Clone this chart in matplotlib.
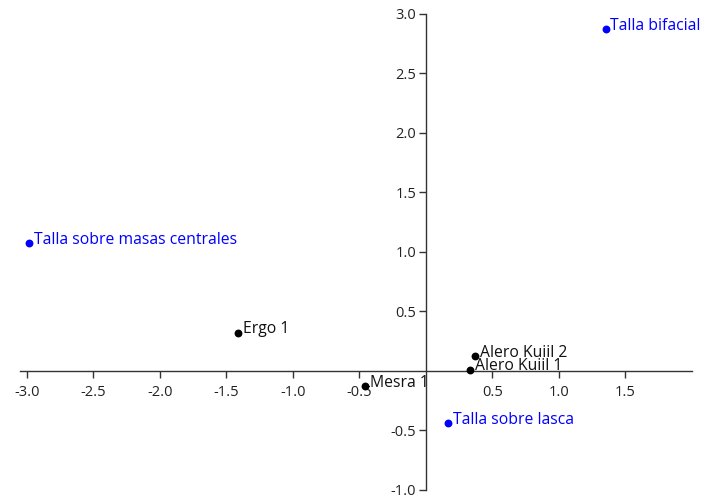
import matplotlib
matplotlib.use("Agg")
import matplotlib.pyplot as plt
from matplotlib.ticker import FixedLocator, FuncFormatter

plt.rcParams['font.family'] = ['Open Sans', 'DejaVu Sans']
plt.rcParams['axes.unicode_minus'] = False

# Data
site_names = ["Ergo 1", "Alero Kuiil 2", "Alero Kuiil 1", "Mesra 1"]
site_x = [-1.41, 0.37, 0.33, -0.46]
site_y = [0.32, 0.12, 0.01, -0.13]

cat_names = ["Talla bifacial", "Talla sobre masas centrales", "Talla sobre lasca"]
cat_x = [1.35, -2.98, 0.17]
cat_y = [2.87, 1.07, -0.44]

x_ticks = [-3.0, -2.5, -2.0, -1.5, -1.0, -0.5, 0.5, 1.0, 1.5]
y_ticks = [-1.0, -0.5, 0.5, 1.0, 1.5, 2.0, 2.5, 3.0]

W, H = 705, 501
fig = plt.figure(figsize=(W / 100, H / 100), dpi=100)
ax = fig.add_axes([20 / W, (H - 492) / H, (692 - 20) / W, (492 - 11.6) / H])
ax.set_xlim(-3.05, 2.0)
ax.set_ylim(-1.02, 3.02)

axis_col = "#333333"
for s in ["top", "right"]:
    ax.spines[s].set_visible(False)
ax.spines["left"].set_position(("data", 0))
ax.spines["bottom"].set_position(("data", 0))
ax.spines["left"].set_bounds(-1.0, 3.0)
for s in ["left", "bottom"]:
    ax.spines[s].set_color(axis_col)
    ax.spines[s].set_linewidth(1.0)

ax.xaxis.set_major_locator(FixedLocator(x_ticks))
ax.yaxis.set_major_locator(FixedLocator(y_ticks))
fmt = FuncFormatter(lambda v, p: f"{v:.1f}")
ax.xaxis.set_major_formatter(fmt)
ax.yaxis.set_major_formatter(fmt)
ax.tick_params(axis="both", direction="out", length=5, width=1, color=axis_col,
               labelsize=10.5, labelcolor="#222222")
ax.tick_params(axis="x", pad=5)
ax.tick_params(axis="y", pad=2)

ax.scatter(site_x, site_y, s=32, color="black", zorder=3, linewidths=0)
ax.scatter(cat_x, cat_y, s=32, color="#0000ff", zorder=3, linewidths=0)

for n, x, y in zip(site_names, site_x, site_y):
    ax.annotate(n, (x, y), xytext=(3.5, 2.5), textcoords="offset points",
                va="center", ha="left", fontsize=11.3, color="#111111")
for n, x, y in zip(cat_names, cat_x, cat_y):
    ax.annotate(n, (x, y), xytext=(3.5, 2.5), textcoords="offset points",
                va="center", ha="left", fontsize=11.3, color="#0000ff")

fig.savefig("out.png", dpi=100)
